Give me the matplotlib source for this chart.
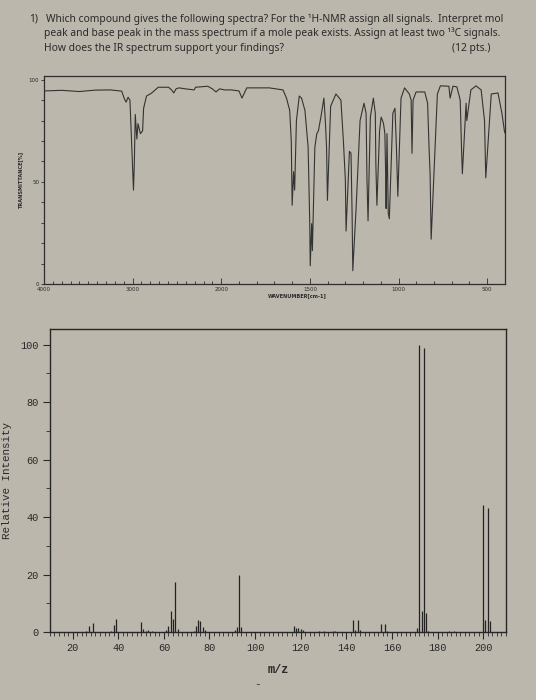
import numpy as np
import matplotlib
matplotlib.use("Agg")
from matplotlib import pyplot as plt
from matplotlib.ticker import FixedLocator, MultipleLocator

# ---- IR spectrum (wavenumber cm-1, transmittance %) ----
ir_wn = [4000, 3800, 3600, 3424, 3250, 3123, 3096, 3073, 3051, 3030, 2990, 2980,
         2970, 2952, 2939, 2912, 2887, 2876, 2843, 2787, 2711, 2595, 2560, 2536,
         2510, 2479, 2400, 2305, 2290, 2152, 2100, 2059, 2020, 1980, 1943, 1900,
         1883, 1856, 1804, 1729, 1652, 1632, 1614, 1605, 1600, 1592, 1586, 1576,
         1560, 1547, 1528, 1510, 1501, 1498, 1490, 1486, 1472, 1461, 1452, 1438,
         1421, 1413, 1406, 1401, 1383, 1353, 1325, 1311, 1300, 1296, 1277, 1268,
         1262, 1258, 1239, 1217, 1195, 1183, 1178, 1172, 1159, 1142, 1131, 1128,
         1122, 1107, 1098, 1085, 1077, 1073, 1070, 1065, 1058, 1052, 1032, 1020,
         1012, 1004, 986, 966, 939, 929, 924, 918, 901, 852, 836, 828,
         822, 816, 781, 764, 716, 709, 693, 671, 652, 645, 640, 619,
         615, 592, 563, 534, 515, 508, 477, 439, 417, 403, 400]
ir_t = [94.5, 94.8, 94.2, 94.9, 95.0, 94.4, 91, 89, 91.4, 90, 46, 60,
        83, 71, 78.5, 73.6, 75, 86, 92, 93.4, 96.3, 96.3, 95, 93.5,
        95.5, 96, 95.5, 95, 96.3, 96.8, 95.5, 94, 95.5, 95, 95, 94.5,
        91, 96, 96, 96, 95, 91, 85, 70, 38.6, 55, 46, 80,
        92, 91, 85, 67, 31, 9, 29.6, 16.4, 67, 73.6, 75, 81.7,
        91, 80, 67, 41, 87, 93, 90, 70, 51, 26, 65, 64,
        34.7, 6.6, 37.8, 80, 88.5, 83.6, 51, 31, 81.7, 91, 83.6, 59,
        38.6, 75, 81.7, 78.7, 73.6, 55, 37, 73.6, 34.7, 32, 83.6, 86,
        67, 43, 91, 96, 93, 90, 64, 90, 94, 94, 88.5, 67,
        54, 22, 93, 97, 96.8, 91, 96.8, 96.5, 90, 67, 54, 88.5,
        80, 95, 97, 95, 80, 52, 93, 93.5, 83.6, 75, 74]
ir_ticks = [4000, 3000, 2000, 1500, 1000, 500]

# ---- mass spectrum (m/z, relative intensity) ----
ms_mz = [26, 27, 29, 37, 38, 39, 43, 50, 51, 52, 53, 55,
         61, 62, 63, 64, 65, 66, 73, 74, 75, 76, 77, 78,
         91, 92, 93, 94, 117, 118, 119, 120, 121, 128, 130, 134,
         135, 143, 144, 145, 146, 155, 157, 158, 171, 172, 173, 174,
         175, 176, 185, 187, 200, 201, 202, 203]
ms_int = [0.5, 2.2, 3.2, 0.5, 2.4, 4.5, 0.2, 3.4, 1.1, 0.5, 0.7, 0.3,
          0.7, 2.1, 7.5, 4.5, 17.4, 1.1, 0.5, 2.1, 4.3, 3.7, 1.8, 0.7,
          0.9, 1.8, 19.8, 1.6, 2.0, 1.5, 1.5, 1.1, 0.7, 0.3, 0.3, 0.4,
          0.4, 4.2, 0.7, 4.2, 0.7, 2.9, 2.9, 0.4, 1.3, 100, 7.5, 98.8,
          6.7, 0.5, 0.3, 0.3, 44.1, 4.2, 43.2, 3.8]

paper = "#bcb7ac"
ink = "#2a2a2a"


# chart position grows with wavenumber; scale halves above 2000 cm-1
def ir_fwd(w):
    w = np.asarray(w, dtype=float)
    return np.where(w >= 2000, (w - 4000) / 1000.0, -2 - (2000 - w) / 500.0)


def ir_inv(v):
    u = -np.asarray(v, dtype=float)
    return np.where(u <= 2, 4000 - 1000.0 * u, 2000 - 500.0 * (u - 2))


fig = plt.figure(figsize=(5.36, 7.0), dpi=100, facecolor=paper)

# question text
qfont = dict(family=["Noto Sans", "DejaVu Sans"], fontsize=7.4, color=ink, va="center")
fig.text(29 / 536, 1 - 19 / 700, "1)", **qfont)
fig.text(46 / 536, 1 - 19 / 700,
         "Which compound gives the following spectra? For the \u00b9H-NMR assign all signals.  Interpret mol",
         **qfont)
fig.text(44 / 536, 1 - 33 / 700,
         "peak and base peak in the mass spectrum if a mole peak exists. Assign at least two \u00b9\u00b3C signals.",
         **qfont)
fig.text(44 / 536, 1 - 48 / 700, "How does the IR spectrum support your findings?", **qfont)
fig.text(491 / 536, 1 - 48 / 700, "(12 pts.)", ha="right", **qfont)

# ---- IR ----
ax1 = fig.add_axes([0.082, 0.594, 0.860, 0.298])
ax1.set_facecolor("none")
ax1.set_xscale("function", functions=(ir_fwd, ir_inv))
ax1.plot(ir_wn, ir_t, color="#333333", lw=0.8)
ax1.set_xlim(4000, 400)
ax1.set_ylim(0, 102)
ax1.xaxis.set_major_locator(FixedLocator(ir_ticks))
ax1.xaxis.set_minor_locator(FixedLocator(list(range(4000, 399, -100))))
ax1.set_xticklabels([str(t) for t in ir_ticks])
ax1.yaxis.set_major_locator(FixedLocator([0, 50, 100]))
ax1.yaxis.set_minor_locator(MultipleLocator(10))
ax1.tick_params(axis="x", which="both", direction="in", length=2.5, width=0.6,
                labelsize=4, pad=2, colors=ink)
ax1.tick_params(axis="x", which="major", length=4)
ax1.tick_params(axis="y", which="both", direction="out", length=2, width=0.6,
                labelsize=4, pad=1.5, colors=ink)
for s in ax1.spines.values():
    s.set_color("#2e2e2e")
    s.set_linewidth(0.9)
ax1.set_ylabel("TRANSMITTANCE[%]", fontsize=3.6, fontweight="bold", color=ink, labelpad=4)
ax1.text(0.55, -0.045, "WAVENUMBER[cm-1]", transform=ax1.transAxes, fontsize=3.6,
         fontweight="bold", color=ink, ha="center", va="top")

# ---- mass spectrum ----
mono = ["Liberation Mono", "DejaVu Sans Mono"]
ax2 = fig.add_axes([0.093, 0.097, 0.851, 0.433])
ax2.set_facecolor("none")
ax2.vlines(ms_mz, 0, ms_int, color="#222222", lw=0.9)
ax2.set_xlim(10, 210)
ax2.set_ylim(0, 105.4)
ax2.xaxis.set_major_locator(MultipleLocator(20))
ax2.xaxis.set_minor_locator(MultipleLocator(2))
ax2.yaxis.set_major_locator(MultipleLocator(20))
ax2.yaxis.set_minor_locator(MultipleLocator(10))
ax2.tick_params(axis="both", which="major", direction="out", length=5, width=0.8,
                labelsize=7.4, colors=ink, pad=3)
ax2.tick_params(axis="both", which="minor", direction="out", length=3, width=0.6, colors=ink)
for lab in ax2.get_xticklabels() + ax2.get_yticklabels():
    lab.set_family(mono)
for s in ax2.spines.values():
    s.set_color("#262626")
    s.set_linewidth(1.0)
ax2.set_xlabel("m/z", family=mono, fontsize=8.6, fontweight="bold", color=ink, labelpad=8)
ax2.set_ylabel("Relative Intensity", family=mono, fontsize=7.8, color=ink)
ax2.yaxis.set_label_coords(-0.082, 0.5)
fig.text(258 / 536, 1 - 684 / 700, "-", family=mono, fontsize=8, color=ink, ha="center", va="center")

plt.savefig("out.png", dpi=100, facecolor=paper)
